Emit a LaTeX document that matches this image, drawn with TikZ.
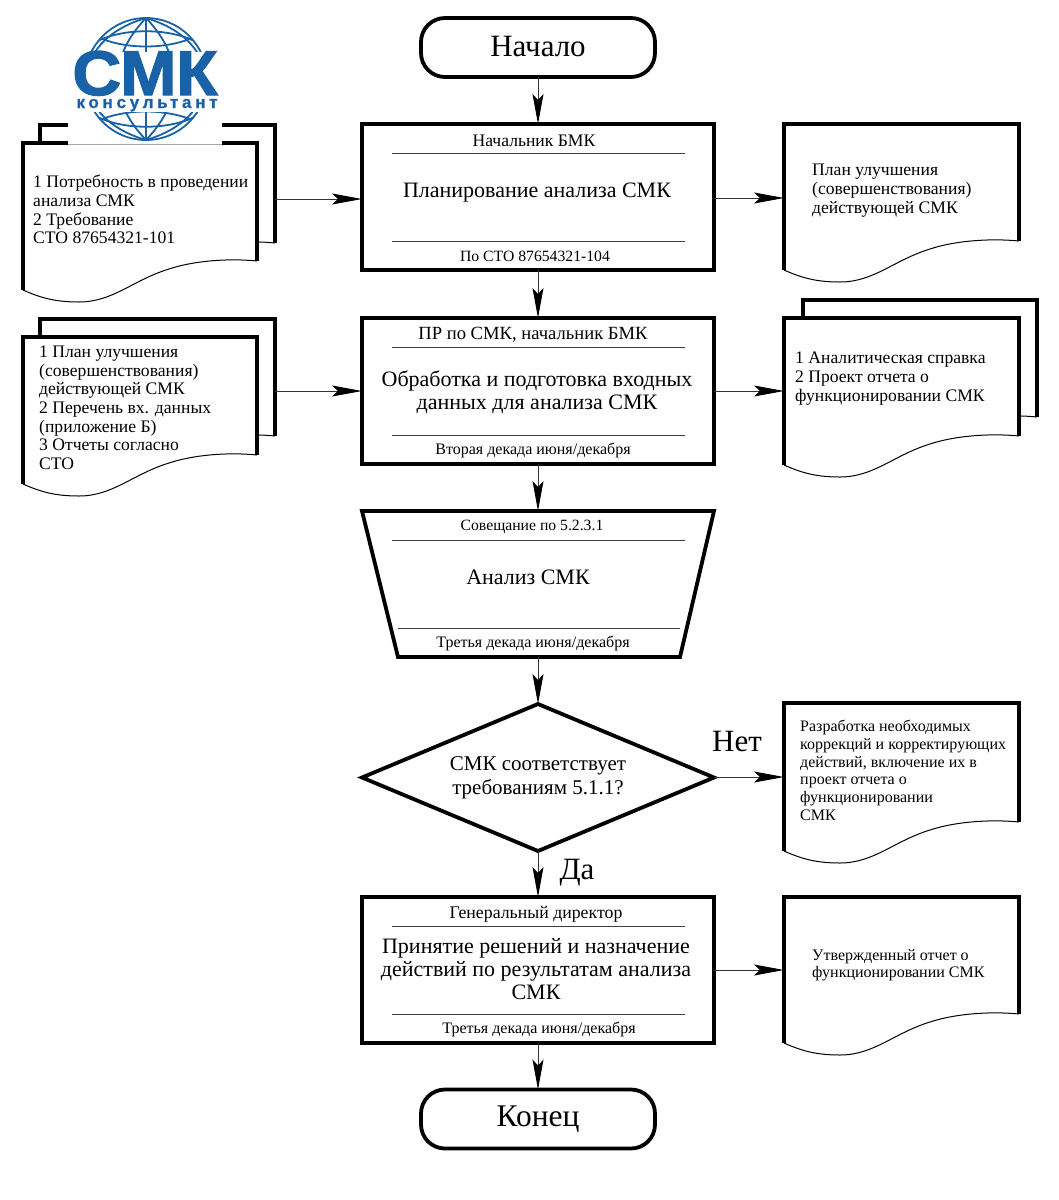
\documentclass[tikz,border=0pt]{standalone}
\usepackage{fontspec}
\setmainfont{Liberation Serif}
\newfontfamily\logofont[FakeBold=2.2,FakeStretch=1.07]{Liberation Sans Bold}
\newfontfamily\logosmall[LetterSpace=22,FakeBold=1]{Liberation Sans Bold}
\usetikzlibrary{arrows.meta,shapes.geometric}
\definecolor{logoblue}{HTML}{1A62A8}
\newcommand{\fs}[1]{\fontsize{#1}{#1}\selectfont}
\tikzset{
  x=1pt,y=-1pt,
  thickline/.style={line width=3.8pt,line cap=rect,line join=miter},
  thinline/.style={line width=1pt,black!75},
  procbox/.style={draw,line width=3.8pt,fill=white,minimum width=352pt,minimum height=146pt,inner sep=0pt,outer sep=0pt},
  termbox/.style={draw,line width=3.8pt,fill=white,rounded corners=24pt,minimum width=234pt,minimum height=59pt,inner sep=0pt,outer sep=0pt},
  decision/.style={draw,diamond,line width=3.8pt,fill=white,minimum width=352pt,minimum height=147pt,inner sep=0pt,outer sep=0pt,aspect=2.39,align=center,font=\fontsize{21}{24}\selectfont},
  small/.style={font=\fs{#1},inner sep=0pt},
  main/.style={font=\fontsize{22}{23}\selectfont,inner sep=0pt,align=center},
  doctext/.style={anchor=north west,align=left,inner sep=0pt,font=\fontsize{17.6}{18.7}\selectfont},
  arr/.style={line width=1pt,black!80,-{Stealth[length=30pt,width=11pt,inset=6pt,black]}},
  big/.style={font=\fs{31},inner sep=0pt},
}
% x1, ytop, x2, yleft-bottom
\newcommand{\docshape}[4]{%
  \fill[white] (#1,#2) -- (#3,#2) -- (#3,#4-29) .. controls (#3-30,#4-32) and (#1+170,#4-29) .. (#1+146,#4-21)
     .. controls (#1+110,#4-10) and (#1+90,#4+12) .. (#1+56,#4+12) .. controls (#1+35,#4+12) and (#1+20,#4+9) .. (#1,#4) -- cycle;
  \draw[line width=1pt] (#3,#4-29) .. controls (#3-30,#4-32) and (#1+170,#4-29) .. (#1+146,#4-21)
     .. controls (#1+110,#4-10) and (#1+90,#4+12) .. (#1+56,#4+12) .. controls (#1+35,#4+12) and (#1+20,#4+9) .. (#1,#4);
  \draw[thickline,line cap=butt] (#1,#4) -- (#1,#2) -- (#3,#2) -- (#3,#4-29);
}
\begin{document}
\begin{tikzpicture}
\useasboundingbox[fill=white] (0,0) rectangle (1059,1200);

% ---------- left documents
\docshape{40}{125}{275}{272}
\docshape{23}{143}{257}{290}
\docshape{40}{319}{275}{465}
\docshape{23}{337}{257}{484}
% ---------- right documents
\docshape{784}{124}{1019}{270}
\docshape{803}{300}{1037}{446}
\docshape{784}{318}{1019}{465}
\docshape{784}{703}{1019}{851}
\docshape{784}{897}{1019}{1043}

% ---------- logo
\fill[white] (68,112) rectangle (222,150);
\draw[black!35,line width=1pt] (68,144) -- (222,144);
\begin{scope}[logoblue,line width=1.8pt]
  \draw (146,79) circle (61);
  \begin{scope}
    \clip (146,79) circle (61);
    \draw (146,18) -- (146,140);
    \draw (146,18) .. controls (125,40) and (118,60) .. (118,79) .. controls (118,98) and (125,118) .. (146,140);
    \draw (146,18) .. controls (167,40) and (174,60) .. (174,79) .. controls (174,98) and (167,118) .. (146,140);
    \draw (146,18) .. controls (105,30) and (88,55) .. (85,79) .. controls (88,103) and (105,128) .. (146,140);
    \draw (146,18) .. controls (187,30) and (204,55) .. (207,79) .. controls (204,103) and (187,128) .. (146,140);
    \draw (92,44) .. controls (120,27) and (172,27) .. (200,44);
    \draw (95,36) .. controls (125,50) and (167,50) .. (197,36);
    \draw (92,114) .. controls (120,131) and (172,131) .. (200,114);
    \draw (95,122) .. controls (125,108) and (167,108) .. (197,122);
  \end{scope}
\end{scope}
\fill[white] (68,52) rectangle (222,112);
\node[logoblue,inner sep=0pt,text height=45pt,text depth=0pt,font=\logofont\fontsize{63}{63}\selectfont] (logo) at (145,72.5) {СМК};
\node[logoblue,inner sep=0pt,text height=9pt,text depth=0pt,font=\logosmall\fontsize{17}{17}\selectfont] (logosub) at (147,103.5) {консультант};

% ---------- main column
\node[termbox,font=\fs{31}] (start) at (538,47.5) {\raisebox{3pt}{Начало}};
\node[procbox] (b1) at (538,197) {};
\node[procbox] (b2) at (538,391) {};
\fill[white] (362,511) -- (714,511) -- (680,657) -- (398,657) -- cycle;
\draw[thickline,line cap=butt] (362,511) -- (714,511) -- (680,657) -- (398,657) -- cycle;
\coordinate (trapT) at (538,511);
\coordinate (trapB) at (538,657);
\node[decision] (dec) at (538,777.5) {СМК соответствует\\требованиям 5.1.1?};
\node[procbox] (b3) at (538,970) {};
\node[termbox,font=\fs{31.5}] (end) at (538,1119) {Конец};

% inner rules
\draw[thinline] (392,153) -- (685,153);
\draw[thinline] (392,241) -- (685,241);
\draw[thinline] (392,347) -- (685,347);
\draw[thinline] (392,435) -- (685,435);
\draw[thinline] (392,540) -- (685,540);
\draw[thinline] (398,628) -- (680,628);
\draw[thinline] (392,926) -- (685,926);
\draw[thinline] (392,1014) -- (685,1014);

% box texts
\node[small=17.6] (t1a) at (534,141) {Начальник БМК};
\node[main] (t1b) at (537,193) {Планирование анализа СМК};
\node[small=15.7] (t1c) at (535,256) {По СТО 87654321-104};
\node[small=18.6] (t2a) at (533,335) {ПР по СМК, начальник БМК};
\node[main] (t2b) at (537,392) {Обработка и подготовка входных\\данных для анализа СМК};
\node[small=16] (t2c) at (533,450) {Вторая декада июня/декабря};
\node[small=15.7] (t3a) at (532,527) {Совещание по 5.2.3.1};
\node[main] (t3b) at (528,577) {Анализ СМК};
\node[small=16] (t3c) at (533,643) {Третья декада июня/декабря};
\node[small=17.8] (t4a) at (536,914) {Генеральный директор};
\node[main] (t4b) at (536,969) {Принятие решений и назначение\\действий по результатам анализа\\СМК};
\node[small=16] (t4c) at (539,1029) {Третья декада июня/декабря};

% document texts
\node[doctext] (dl1) at (33,175) {1 Потребность в проведении\\анализа СМК\\2 Требование\\СТО 87654321-101};
\node[doctext] (dl2) at (39,345.5) {1 План улучшения\\(совершенствования)\\действующей СМК\\2 Перечень вх. данных\\(приложение Б)\\3 Отчеты согласно\\СТО};
\node[doctext] (dr1) at (812,164) {План улучшения\\(совершенствования)\\действующей СМК};
\node[doctext] (dr2) at (795,352) {1 Аналитическая справка\\2 Проект отчета о\\функционировании СМК};
\node[doctext,font=\fontsize{16}{17.7}\selectfont] (dr3) at (800,720) {Разработка необходимых\\коррекций и корректирующих\\действий, включение их в\\проект отчета о\\функционировании\\СМК};
\node[doctext,font=\fontsize{16}{17.5}\selectfont] (dr4) at (812,949) {Утвержденный отчет о\\функционировании СМК};

% labels
\node[big] (no) at (737,741) {Нет};
\node[big] (yes) at (577,873) {Да};

% connection points on documents
\coordinate (dl1e) at (275,199);
\coordinate (dl2e) at (275,391);
\coordinate (dr1w) at (784,198);
\coordinate (dr2w) at (784,391);
\coordinate (dr3w) at (784,777);
\coordinate (dr4w) at (784,970);

% connectors
\draw[arr] (start) -- (b1);
\draw[arr] (b1) -- (b2);
\draw[arr] (b2) -- (trapT);
\draw[arr] (trapB) -- (dec);
\draw[arr] (dec) -- (b3);
\draw[arr] (b3) -- (end);
\draw[arr] (dl1e) -- (b1.west |- dl1e);
\draw[arr] (dl2e) -- (b2.west |- dl2e);
\draw[arr] (b1.east |- dr1w) -- (dr1w);
\draw[arr] (b2.east |- dr2w) -- (dr2w);
\draw[arr] (dec.east |- dr3w) -- (dr3w);
\draw[arr] (b3.east |- dr4w) -- (dr4w);
\end{tikzpicture}
\end{document}
